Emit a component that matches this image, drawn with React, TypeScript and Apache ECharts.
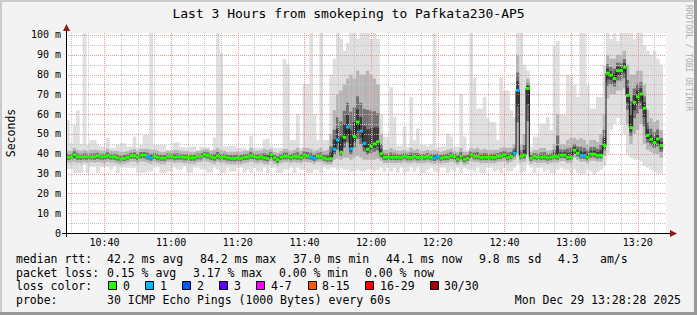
import React, { useEffect, useRef } from 'react';
import * as echarts from 'echarts';

const MONO = '"DejaVu Sans Mono", monospace';

// time origin: minutes after 10:00 (graph starts 10:28:28, one sample per minute)
const startMinute = 28 + 28 / 60;
const spanMinutes = 180;

const median = [
  38.3, 38.3, 39.5, 38.5, 38.5, 38.5, 38.5, 38.5, 38.5, 39.0, 38.5, 38.5, 39.0, 38.5, 38.5, 38.0, 37.2, 37.7, 38.2, 39.0,
  39.0, 38.3, 39.3, 39.3, 38.6, 38.0, 38.8, 38.2, 37.8, 37.8, 38.7, 38.7, 38.2, 38.5, 38.5, 38.2, 38.2, 38.0, 38.0, 38.7,
  38.7, 39.7, 39.2, 38.5, 38.0, 38.8, 38.2, 38.5, 38.0, 37.7, 37.7, 38.0, 37.7, 38.3, 38.5, 39.0, 38.5, 38.2, 38.5, 38.0,
  37.7, 39.5, 38.0, 37.0, 38.3, 38.7, 38.7, 38.2, 38.7, 38.5, 38.2, 39.3, 38.8, 38.5, 37.8, 38.7, 38.7, 37.8, 37.3, 37.5,
  42.3, 47.0, 40.8, 48.3, 53.5, 42.5, 48.7, 56.0, 51.5, 45.3, 42.3, 43.7, 45.0, 46.0, 40.0, 38.3, 38.3, 38.3, 38.3, 38.3,
  38.2, 38.7, 38.2, 38.2, 38.7, 38.2, 38.2, 38.3, 38.7, 38.2, 37.8, 38.5, 37.8, 38.3, 38.3, 39.0, 38.5, 37.3, 38.7, 37.2,
  37.8, 39.5, 38.7, 38.7, 38.2, 38.3, 38.3, 38.2, 38.2, 38.7, 38.8, 39.5, 38.2, 38.7, 40.3, 72.0, 38.7, 39.3, 73.0, 37.8,
  38.7, 38.3, 38.3, 38.5, 38.0, 38.3, 38.7, 38.5, 39.3, 39.3, 38.3, 38.3, 41.8, 40.3, 39.0, 39.0, 38.3, 39.8, 39.8, 39.2,
  39.2, 44.2, 80.7, 79.7, 78.0, 82.0, 82.0, 83.7, 69.5, 53.2, 66.0, 68.8, 70.2, 63.0, 49.3, 47.3, 45.7, 47.5, 44.0, null,
];

const loss = [
  0, 0, 0, 0, 0, 0, 0, 0, 0, 0, 0, 0, 0, 0, 0, 0, 0, 0, 0, 0,
  0, 0, 0, 0, 1, 1, 0, 0, 0, 0, 0, 0, 0, 0, 0, 0, 0, 0, 0, 0,
  0, 0, 0, 0, 0, 0, 0, 0, 0, 0, 0, 0, 0, 0, 0, 0, 0, 0, 0, 0,
  0, 0, 0, 0, 0, 0, 0, 0, 0, 0, 0, 0, 0, 1, 1, 0, 0, 0, 0, 0,
  1, 1, 0, 0, 1, 1, 0, 0, 1, 1, 0, 0, 0, 0, 0, 0, 0, 0, 0, 0,
  0, 0, 0, 0, 0, 0, 0, 0, 0, 0, 1, 1, 0, 0, 0, 0, 0, 0, 0, 0,
  0, 0, 0, 0, 0, 0, 0, 0, 0, 0, 0, 0, 0, 0, 1, 1, 0, 0, 0, 0,
  0, 0, 0, 0, 0, 0, 0, 0, 0, 0, 0, 0, 0, 0, 1, 1, 0, 0, 0, 0,
  0, 0, 0, 0, 0, 0, 0, 0, 0, 0, 0, 0, 0, 0, 0, 0, 0, 0, 0, 0,
];

const smokeMin = [
  32.3, 32.3, 30.3, 30.3, 30.3, 34.5, 30.3, 33.3, 33.3, 30.3, 33.3, 33.3, 33.3, 32, 33.5, 30.3, 33, 33, 33, 33,
  33, 30.3, 30.3, 30.3, 31, 31, 33.3, 33.3, 30.3, 30.3, 31, 31, 33, 32, 32, 33.5, 30.5, 30.5, 33, 33,
  32, 32, 30.5, 30.5, 33, 32, 30.3, 30.3, 33, 31, 31, 33, 33, 30.5, 32, 30.3, 33, 31, 31, 33,
  30.3, 33, 33, 30.3, 30.3, 32, 32, 33, 30.3, 33, 32, 32, 30.3, 30.3, 32, 32, 30.3, 33, 32, 33,
  33, 32, 33, 32, 32, 31, 31, 32, 31, 31, 32, 32, 31, 32, 33, 31, 33, 31, 33, 30.5,
  33, 30.5, 31, 33, 31, 33, 30.3, 30.3, 32, 33, 31, 30.5, 33, 33, 30.3, 32, 31, 33, 30.3, 33,
  32, 32, 31, 33, 30.3, 30.3, 33, 33, 31, 32, 30.3, 33, 31, 31, 33, 35, 30.3, 31, 35, 33,
  30.3, 33, 33, 31, 32, 30.3, 30.3, 32, 33, 32, 32, 30.3, 32, 30.3, 29.5, 30, 32, 31, 29.5, 31,
  32, 34, 40, 52, 55, 58, 55, 50, 40, 38, 37, 37, 36, 34, 33, 32, 31, 30, 30, null,
];

const smokeLo = [
  35.5, 35.5, 35.8, 35.5, 35.3, 35.8, 35.5, 35.7, 35.5, 35.8, 35.5, 35.3, 36, 35.5, 35.5, 35, 34.5, 35, 35.3, 36,
  36, 35.3, 36, 36, 35.5, 35, 35.8, 35.3, 35, 35, 35.7, 35.7, 35.3, 35.5, 35.5, 35.2, 35.3, 35, 35, 35.7,
  35.7, 36.5, 36, 35.5, 35, 35.8, 35.2, 35.5, 35, 34.7, 34.7, 35, 34.7, 35.3, 35.5, 36, 35.5, 35.2, 35.5, 35,
  34.7, 36, 35, 34, 35.3, 35.7, 35.7, 35.2, 35.7, 35.5, 35.2, 36, 35.8, 35.5, 35, 35.7, 35.7, 35, 34.5, 34.5,
  37, 37.5, 37, 38, 38, 37, 38, 39, 38, 37, 37, 37, 37, 37.5, 36.5, 35.3, 35.3, 35.3, 35.3, 35.3,
  35.2, 35.7, 35.2, 35.2, 35.7, 35.2, 35.2, 35.3, 35.7, 35.2, 35, 35.5, 35, 35.3, 35.3, 36, 35.5, 34.5, 35.7, 34.3,
  35, 36.3, 35.7, 35.7, 35.2, 35.3, 35.3, 35.2, 35.2, 35.7, 35.8, 36.3, 35.2, 35.7, 37, 40, 35.5, 36, 40, 35,
  35.7, 35.3, 35.3, 35.5, 35, 35.3, 35.7, 35.5, 36.3, 36.3, 35.3, 35.3, 38, 37, 36, 36, 35.3, 36.5, 36.5, 36,
  36, 39, 68, 70, 70, 72, 72, 73, 55, 45, 50, 52, 55, 45, 42, 41, 40, 40, 38, null,
];

const smokeHi = [
  41.5, 41.5, 43, 42, 41.5, 42, 41.5, 42, 42, 42, 41.5, 41.5, 42.5, 41.5, 41.5, 41.5, 41, 41, 41.3, 42,
  42.5, 41.5, 42.5, 42.5, 42.5, 42, 42, 41.5, 41, 41, 41.5, 41.5, 42, 42, 41.5, 41.3, 41.3, 41, 41, 41.5,
  41.7, 42.5, 42.3, 41.5, 42, 43, 42, 41.5, 41, 41, 41, 41.3, 41, 41.5, 41.5, 43, 41.5, 41.5, 41.7, 42.5,
  42, 42.5, 41, 40.5, 41.5, 42.5, 42.5, 41.5, 42, 43, 41.5, 43, 43, 42.5, 41.5, 42, 43, 41.5, 42, 50,
  62, 70, 72, 75, 78, 80, 78, 82, 80, 80, 82, 80, 78, 75, 50, 42, 42, 43, 42, 41.5,
  41.5, 42, 41.3, 43, 42, 42.5, 41.5, 41.5, 42, 41.5, 42, 41.5, 41, 41.5, 42, 42.5, 41.5, 41, 43, 41,
  41, 43, 42.5, 43, 42, 42.5, 42, 42, 42, 42, 43, 43.5, 43, 43, 45, 90, 45, 50, 78, 41,
  42, 42, 43, 43, 41.5, 42, 45, 60, 45, 45, 47, 48, 48, 47, 48, 47, 45, 47, 47, 46,
  50, 60, 90, 88, 88, 90, 90, 92, 85, 80, 80, 82, 82, 75, 62, 58, 56, 57, 52, null,
];

const smokeMax = [
  57, 45, 54.5, 62, 45, 101, 44.5, 47, 47, 44.5, 43.7, 43.7, 48, 43, 43, 44.5, 45.3, 45.3, 43.7, 43.7,
  48.7, 43, 44.5, 49.5, 49.5, 101, 44.5, 44.5, 44.5, 44.5, 42, 42, 45.7, 45.7, 43.3, 43.3, 43, 43.7, 43.7, 41.7,
  43.7, 43.3, 43.3, 42, 48.3, 101, 91, 43.7, 43.7, 44, 44, 43, 43, 43, 42, 49, 43, 43, 43, 47.3,
  47.8, 43.7, 43, 43, 43, 87.8, 85.3, 47, 47, 60.3, 43, 75.3, 75.3, 101, 60, 47, 101, 47, 47, 80,
  88, 101, 98, 92, 96, 101, 101, 98, 101, 101, 101, 98, 101, 98, 60, 48.7, 48.7, 73.7, 58.7, 44,
  44, 53.7, 43.3, 68.7, 47, 52.8, 44.5, 44.5, 43.7, 45, 101, 43, 43.7, 43.7, 50.3, 48.7, 43.7, 43.7, 70.3, 48.7,
  42, 101, 78.7, 62.8, 62.8, 68.7, 58, 56, 56, 47, 78.7, 72, 72, 62, 58.7, 101, 101, 85, 82, 43.7,
  48.7, 48.7, 55.3, 55.3, 58.7, 52, 95, 97, 59.5, 59.5, 80, 79, 75, 68.7, 101, 101, 74.5, 62.8, 62.8, 68.7,
  68.7, 85, 101, 98, 101, 97, 101, 101, 101, 101, 98, 101, 101, 95, 92, 90, 92, 88, 85, null,
];

const xMajorTicks = [40, 60, 80, 100, 120, 140, 160, 180, 200];
const xMinorTicks = [30, 35, 45, 50, 55, 65, 70, 75, 85, 90, 95, 105, 110, 115, 125, 130, 135, 145, 150, 155, 165, 170, 175, 185, 190, 195, 205];
const yLabelTicks = [0, 10, 20, 30, 40, 50, 60, 70, 80, 90, 100];
const yMajorTicks = [10, 20, 30, 40, 50, 60, 70, 80, 90, 100];
const yMinorTicks = [5, 15, 25, 35, 45, 55, 65, 75, 85, 95];

const lossColors = ['#26ff00', '#00b8ff', '#0059ff', '#5e00ff', '#ff00ff', '#ff5500', '#ff0000', '#a10000'];
const lossLabels = ['0', '1', '2', '3', '4-7', '8-15', '16-29', '30/30'];

const titleText = 'Last 3 Hours from smokeping to Pafkata230-AP5';
const rttStats = ['42.2 ms avg', '84.2 ms max', '37.0 ms min', '44.1 ms now', '9.8 ms sd', '4.3', 'am/s'];
const lossStats = ['0.15 % avg', '3.17 % max', '0.00 % min', '0.00 % now'];
const probeText = '30 ICMP Echo Pings (1000 Bytes) every 60s';
const dateText = 'Mon Dec 29 13:28:28 2025';

function lossBucket(n: number) {
  if (n <= 3) return n;
  if (n <= 7) return 4;
  if (n <= 15) return 5;
  if (n <= 29) return 6;
  return 7;
}

function fmtTime(v: number) {
  const t = Math.round(v);
  const h = 10 + Math.floor(t / 60);
  const m = t % 60;
  return `${h}:${String(m).padStart(2, '0')}`;
}

export default function App() {
  const ref = useRef<HTMLDivElement>(null);
  useEffect(() => {
    if (!ref.current) return;
    const chart = echarts.init(ref.current, undefined, { renderer: 'svg' });

    const samples = median
      .map((m, i) => ({ i, m }))
      .filter((s) => s.m !== null) as { i: number; m: number }[];
    const smokeData = samples.map(({ i, m }) => [startMinute + i, smokeMin[i], smokeLo[i], smokeHi[i], smokeMax[i], m]);
    const dashData = samples.map(({ i, m }) => [startMinute + i, m, loss[i]]);
    const lineData: number[][] = samples.map(({ i, m }) => [startMinute + i, m]);
    const last = samples[samples.length - 1];
    lineData.push([startMinute + last.i + 1, last.m]);

    const legendFont = `11.5px ${MONO}`;
    const txt = (text: string, x: number, y: number, extra: any = {}) => ({
      type: 'text',
      x,
      y,
      z: 50,
      style: { text, fill: '#000', font: legendFont, textAlign: 'left', textVerticalAlign: 'middle', ...(extra.style || {}) },
      ...(extra.el || {}),
    });

    const rttX = [107, 200, 293, 386, 479, 558, 600];
    const lossX = [107, 193, 279, 365];
    const boxX = [108, 145, 182, 219, 256, 308, 365, 430];
    const boxLabelX = [123, 160, 197, 234, 271, 322, 380, 444];
    const rowY = [259, 272.5, 286, 299.5];

    const graphic: any[] = [
      // 3D frame
      { type: 'rect', z: 40, shape: { x: 0, y: 0, width: 697, height: 2 }, style: { fill: '#cbcbcb' } },
      { type: 'rect', z: 40, shape: { x: 0, y: 0, width: 2, height: 315 }, style: { fill: '#cbcbcb' } },
      { type: 'rect', z: 41, shape: { x: 0, y: 312, width: 697, height: 3 }, style: { fill: '#999999' } },
      { type: 'rect', z: 41, shape: { x: 694, y: 0, width: 3, height: 315 }, style: { fill: '#999999' } },
      // axes
      { type: 'line', z: 60, shape: { x1: 66.5, y1: 237, x2: 66.5, y2: 28 }, style: { stroke: '#000', lineWidth: 1 } },
      { type: 'line', z: 60, shape: { x1: 62, y1: 233.5, x2: 671, y2: 233.5 }, style: { stroke: '#000', lineWidth: 1 } },
      { type: 'polygon', z: 61, shape: { points: [[66.5, 24], [63, 31], [70, 31]] }, style: { fill: '#8e1a1a' } },
      { type: 'polygon', z: 61, shape: { points: [[677, 233.5], [670, 230], [670, 237]] }, style: { fill: '#8e1a1a' } },
      // title, unit, watermark
      txt(titleText, 348.5, 13, { style: { font: `13px ${MONO}`, textAlign: 'center' } }),
      txt('Seconds', 11, 133, { style: { font: `11.5px ${MONO}`, textAlign: 'center' }, el: { rotation: Math.PI / 2 } }),
      txt('RRDTOOL / TOBI OETIKER', 688, 5, { style: { font: `8px ${MONO}`, fill: '#adadad' }, el: { rotation: -Math.PI / 2 } }),
      // legend rows
      txt('median rtt:', 16, rowY[0]),
      ...rttStats.map((s, k) => txt(s, rttX[k], rowY[0])),
      txt('packet loss:', 16, rowY[1]),
      ...lossStats.map((s, k) => txt(s, lossX[k], rowY[1])),
      txt('loss color:', 16, rowY[2]),
      ...lossLabels.map((s, k) => txt(s, boxLabelX[k], rowY[2])),
      ...lossColors.map((c, k) => ({
        type: 'rect',
        z: 50,
        shape: { x: boxX[k] + 0.5, y: rowY[2] - 4.5, width: 8, height: 8 },
        style: { fill: c, stroke: '#000', lineWidth: 1 },
      })),
      txt('probe:', 16, rowY[3]),
      txt(probeText, 107, rowY[3]),
      txt(dateText, 681, rowY[3], { style: { textAlign: 'right' } }),
    ];

    const option: any = {
      animation: false,
      backgroundColor: '#f3f3f3',
      grid: { left: 66, top: 33, width: 600, height: 200, show: true, backgroundColor: '#ffffff', borderWidth: 0 },
      xAxis: {
        type: 'value',
        min: startMinute,
        max: startMinute + spanMinutes,
        axisLine: { show: false },
        axisTick: { show: false },
        splitLine: { show: false },
        axisLabel: {
          customValues: xMajorTicks,
          formatter: (v: number) => fmtTime(v),
          fontFamily: MONO,
          fontSize: 10,
          color: '#000',
          margin: 4,
        },
      },
      yAxis: {
        type: 'value',
        min: 0,
        max: 101,
        axisLine: { show: false },
        axisTick: { show: false },
        splitLine: { show: false },
        axisLabel: {
          customValues: yLabelTicks,
          formatter: (v: number) => (v === 0 ? '0' : `${v} m`),
          fontFamily: MONO,
          fontSize: 10,
          color: '#000',
          margin: 5,
        },
      },
      series: [
        {
          type: 'custom',
          name: 'smoke',
          z: 1,
          silent: true,
          clip: true,
          encode: { x: 0, y: 1 },
          data: smokeData,
          renderItem: (params: any, api: any) => {
            const t = api.value(0);
            const mn = api.value(1), lo = api.value(2), hi = api.value(3), mx = api.value(4), md = api.value(5);
            const xa = api.coord([t, 0])[0];
            const xb = api.coord([t + 1, 0])[0];
            const w = xb - xa + 0.4;
            const y = (v: number) => api.coord([t, v])[1];
            const band = (a: number, b: number, fill: string) => ({
              type: 'rect',
              shape: { x: xa, y: y(b), width: w, height: y(a) - y(b) },
              style: { fill },
            });
            const cLo = (lo + md) / 2, cHi = (hi + md) / 2;
            const iLo = (cLo + md) / 2, iHi = (cHi + md) / 2;
            return {
              type: 'group',
              children: [
                band(mn, mx, '#dfdfdf'),
                band(lo, hi, '#b6b6b6'),
                band(cLo, cHi, '#737373'),
                band(iLo, iHi, '#3c3c3c'),
              ],
            };
          },
        },
        {
          type: 'custom',
          name: 'grid',
          z: 2,
          silent: true,
          clip: false,
          encode: { x: 0, y: 1 },
          data: [[startMinute, 0]],
          renderItem: (params: any, api: any) => {
            const cs = params.coordSys;
            const children: any[] = [];
            const vLine = (t: number, stroke: string) => {
              const x = Math.round(api.coord([t, 0])[0]) + 0.5;
              children.push({ type: 'line', shape: { x1: x, y1: cs.y, x2: x, y2: cs.y + cs.height }, style: { stroke, lineWidth: 1, lineDash: [1, 1] } });
            };
            const hLine = (v: number, stroke: string) => {
              const yy = Math.round(api.coord([startMinute, v])[1]) + 0.5;
              children.push({ type: 'line', shape: { x1: cs.x, y1: yy, x2: cs.x + cs.width, y2: yy }, style: { stroke, lineWidth: 1, lineDash: [1, 1] } });
            };
            xMinorTicks.forEach((t) => vLine(t, '#c4c4c4'));
            yMinorTicks.forEach((v) => hLine(v, '#c4c4c4'));
            xMajorTicks.forEach((t) => vLine(t, '#e29a9a'));
            yMajorTicks.forEach((v) => hLine(v, '#e29a9a'));
            return { type: 'group', children };
          },
        },
        {
          type: 'line',
          name: 'median',
          z: 3,
          silent: true,
          step: 'end',
          symbol: 'none',
          data: lineData,
          lineStyle: { color: '#111', width: 1 },
        },
        {
          type: 'custom',
          name: 'loss',
          z: 4,
          silent: true,
          clip: true,
          encode: { x: 0, y: 1 },
          data: dashData,
          renderItem: (params: any, api: any) => {
            const t = api.value(0);
            const md = api.value(1);
            const ls = api.value(2);
            const xa = api.coord([t, md])[0];
            const xb = api.coord([t + 1, md])[0];
            const yc = api.coord([t, md])[1];
            return {
              type: 'rect',
              shape: { x: xa, y: yc - 1.5, width: xb - xa + 0.3, height: 3 },
              style: { fill: lossColors[lossBucket(ls)] },
            };
          },
        },
      ],
      graphic,
    };

    chart.setOption(option);
    return () => chart.dispose();
  }, []);

  return <div ref={ref} style={{ position: 'absolute', left: 0, top: 0, width: 697, height: 315 }} />;
}
